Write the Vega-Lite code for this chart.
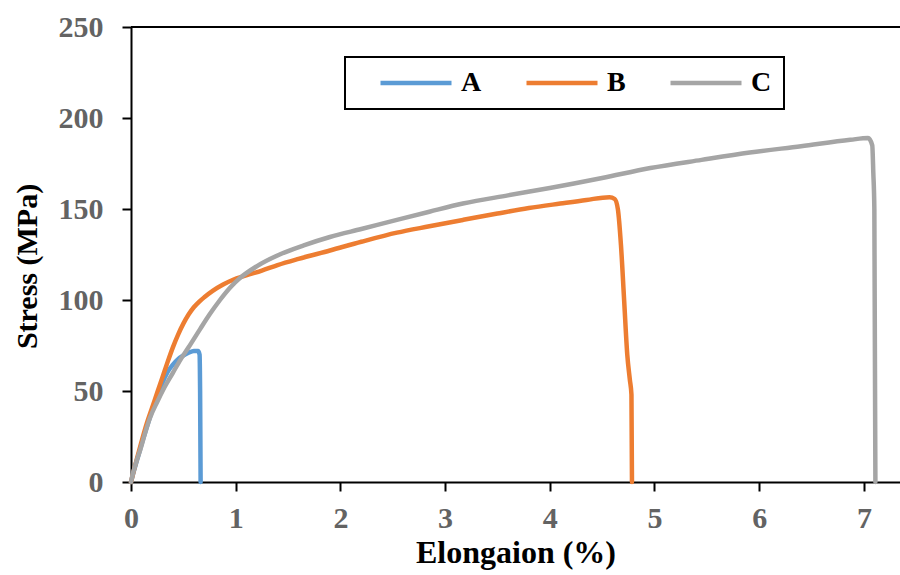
{
  "$schema": "https://vega.github.io/schema/vega-lite/v6.json",
  "autosize": {"type": "none"},
  "padding": {"left": 131, "top": 27, "right": 0, "bottom": 93},
  "width": 769,
  "height": 455,
  "background": "white",
  "config": {
    "view": {"stroke": null},
    "axis": {
      "domainColor": "black", "domainWidth": 2,
      "tickColor": "black", "tickWidth": 2, "tickSize": 9,
      "labelFont": "Liberation Serif", "labelFontWeight": "bold", "labelFontSize": 30, "labelColor": "#636363",
      "labelFlush": false,
      "titleFont": "Liberation Serif", "titleFontWeight": "bold", "titleColor": "black",
      "grid": false
    },
    "legend": {
      "orient": "none", "legendX": 214, "legendY": 30, "direction": "horizontal",
      "strokeColor": "black", "strokeWidth": 2, "fillColor": "white", "padding": 12,
      "symbolType": "stroke", "symbolSize": 5041, "symbolStrokeWidth": 4.5,
      "labelFont": "Liberation Serif", "labelFontWeight": "bold", "labelFontSize": 28, "labelColor": "black",
      "labelOffset": 7, "columnPadding": 21, "clipHeight": 28, "symbolOffset": 21
    }
  },
  "data": {"values": [
    {"s":"A","i":0,"x":0,"y":0},{"s":"A","i":1,"x":0.03,"y":6.5},{"s":"A","i":2,"x":0.06,"y":12.5},{"s":"A","i":3,"x":0.1,"y":20.5},{"s":"A","i":4,"x":0.15,"y":30},{"s":"A","i":5,"x":0.2,"y":39},{"s":"A","i":6,"x":0.25,"y":47},{"s":"A","i":7,"x":0.3,"y":54.5},{"s":"A","i":8,"x":0.35,"y":60.5},{"s":"A","i":9,"x":0.4,"y":64.5},{"s":"A","i":10,"x":0.45,"y":67.5},{"s":"A","i":11,"x":0.5,"y":69.5},{"s":"A","i":12,"x":0.55,"y":71},{"s":"A","i":13,"x":0.6,"y":72},{"s":"A","i":14,"x":0.64,"y":72},{"s":"A","i":15,"x":0.655,"y":70},{"s":"A","i":16,"x":0.66,"y":50},{"s":"A","i":17,"x":0.665,"y":0},
    {"s":"B","i":0,"x":0,"y":0},{"s":"B","i":1,"x":0.03,"y":7},{"s":"B","i":2,"x":0.06,"y":13.5},{"s":"B","i":3,"x":0.1,"y":22},{"s":"B","i":4,"x":0.15,"y":32},{"s":"B","i":5,"x":0.2,"y":40.5},{"s":"B","i":6,"x":0.25,"y":49},{"s":"B","i":7,"x":0.3,"y":57.5},{"s":"B","i":8,"x":0.35,"y":66},{"s":"B","i":9,"x":0.4,"y":74},{"s":"B","i":10,"x":0.45,"y":81},{"s":"B","i":11,"x":0.5,"y":87},{"s":"B","i":12,"x":0.55,"y":92},{"s":"B","i":13,"x":0.6,"y":96},{"s":"B","i":14,"x":0.65,"y":99},{"s":"B","i":15,"x":0.7,"y":101.5},{"s":"B","i":16,"x":0.78,"y":105},{"s":"B","i":17,"x":0.88,"y":108.5},{"s":"B","i":18,"x":0.97,"y":111},{"s":"B","i":19,"x":1.1,"y":113.5},{"s":"B","i":20,"x":1.25,"y":116.2},{"s":"B","i":21,"x":1.4,"y":119.2},{"s":"B","i":22,"x":1.6,"y":122.6},{"s":"B","i":23,"x":1.9,"y":127.2},{"s":"B","i":24,"x":2.2,"y":132},{"s":"B","i":25,"x":2.54,"y":137},{"s":"B","i":26,"x":2.85,"y":140.5},{"s":"B","i":27,"x":3.17,"y":144},{"s":"B","i":28,"x":3.5,"y":147.5},{"s":"B","i":29,"x":3.8,"y":150.5},{"s":"B","i":30,"x":4.1,"y":153},{"s":"B","i":31,"x":4.35,"y":155},{"s":"B","i":32,"x":4.57,"y":156.5},{"s":"B","i":33,"x":4.62,"y":155.5},{"s":"B","i":34,"x":4.65,"y":150},{"s":"B","i":35,"x":4.68,"y":130},{"s":"B","i":36,"x":4.71,"y":100},{"s":"B","i":37,"x":4.74,"y":70},{"s":"B","i":38,"x":4.765,"y":56},{"s":"B","i":39,"x":4.78,"y":48},{"s":"B","i":40,"x":4.785,"y":0},
    {"s":"C","i":0,"x":0,"y":0},{"s":"C","i":1,"x":0.02,"y":5},{"s":"C","i":2,"x":0.05,"y":11},{"s":"C","i":3,"x":0.09,"y":18},{"s":"C","i":4,"x":0.13,"y":26},{"s":"C","i":5,"x":0.18,"y":35},{"s":"C","i":6,"x":0.25,"y":44},{"s":"C","i":7,"x":0.31,"y":51},{"s":"C","i":8,"x":0.4,"y":60},{"s":"C","i":9,"x":0.47,"y":67},{"s":"C","i":10,"x":0.55,"y":74},{"s":"C","i":11,"x":0.66,"y":84},{"s":"C","i":12,"x":0.75,"y":92},{"s":"C","i":13,"x":0.85,"y":100},{"s":"C","i":14,"x":0.95,"y":107},{"s":"C","i":15,"x":1.04,"y":112},{"s":"C","i":16,"x":1.2,"y":118.5},{"s":"C","i":17,"x":1.42,"y":125},{"s":"C","i":18,"x":1.65,"y":130},{"s":"C","i":19,"x":1.9,"y":134.6},{"s":"C","i":20,"x":2.2,"y":139},{"s":"C","i":21,"x":2.54,"y":144},{"s":"C","i":22,"x":2.85,"y":148.5},{"s":"C","i":23,"x":3.17,"y":153},{"s":"C","i":24,"x":3.6,"y":157.5},{"s":"C","i":25,"x":4.0,"y":161.5},{"s":"C","i":26,"x":4.5,"y":167},{"s":"C","i":27,"x":4.96,"y":172.5},{"s":"C","i":28,"x":5.45,"y":177},{"s":"C","i":29,"x":5.91,"y":181},{"s":"C","i":30,"x":6.4,"y":184.5},{"s":"C","i":31,"x":6.87,"y":188},{"s":"C","i":32,"x":7.04,"y":189},{"s":"C","i":33,"x":7.08,"y":185},{"s":"C","i":34,"x":7.09,"y":170},{"s":"C","i":35,"x":7.1,"y":150},{"s":"C","i":36,"x":7.11,"y":0}
  ]},
  "layer": [
    {
      "mark": {"type": "rule", "color": "black", "strokeWidth": 2},
      "encoding": {"y": {"datum": 250, "type": "quantitative", "scale": {"domain": [0, 250], "nice": false}}}
    },
    {
      "mark": {"type": "line", "strokeWidth": 4.5, "strokeCap": "round", "strokeJoin": "round", "interpolate": "monotone"},
      "encoding": {
        "x": {"field": "x", "type": "quantitative", "scale": {"domain": [0, 7.345], "nice": false},
              "axis": {"values": [0,1,2,3,4,5,6,7], "labelPadding": 12, "title": "Elongaion (%)", "titleFontSize": 32, "titlePadding": 4}},
        "y": {"field": "y", "type": "quantitative", "scale": {"domain": [0, 250], "nice": false},
              "axis": {"values": [0,50,100,150,200,250], "labelPadding": 19, "title": "Stress (MPa)", "titleFontSize": 30, "titlePadding": 16, "titleY": 239}},
        "color": {"field": "s", "type": "nominal", "scale": {"domain": ["A","B","C"], "range": ["#5b9bd5","#ed7d31","#a5a5a5"]},
                  "legend": {"title": null}},
        "order": {"field": "i", "type": "quantitative"}
      }
    }
  ]
}
